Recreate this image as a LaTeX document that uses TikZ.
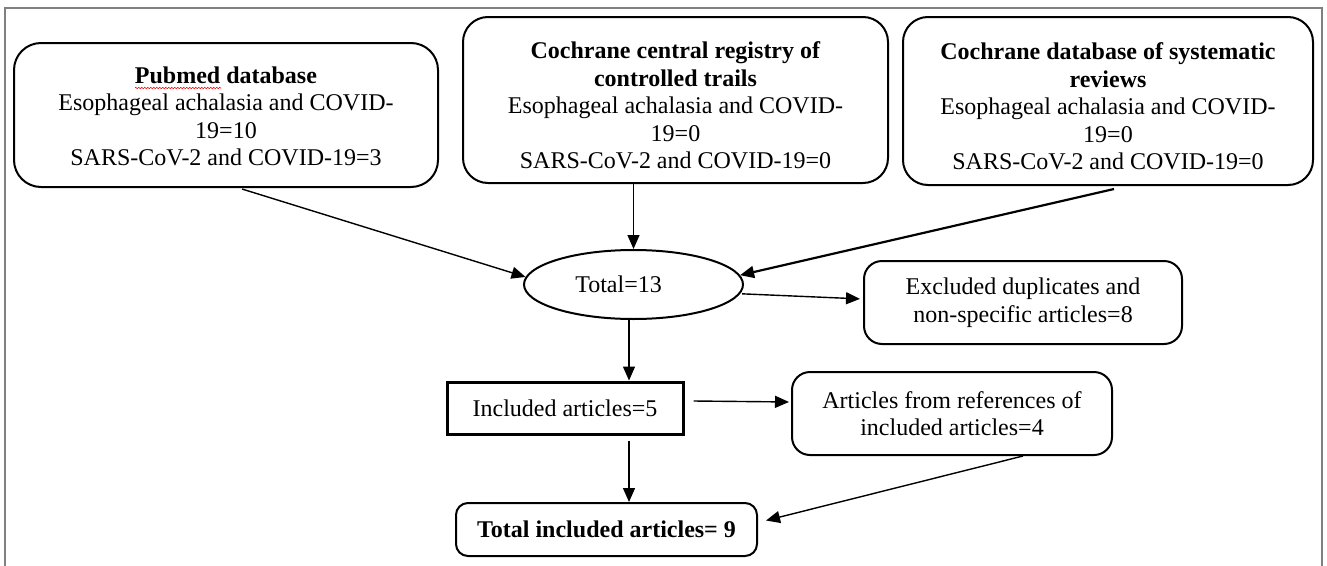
\documentclass[tikz,border=0pt]{standalone}
\usepackage{fontspec}
\setmainfont{Liberation Serif}
\usetikzlibrary{arrows.meta,decorations.pathmorphing,shapes.geometric}
\begin{document}
\begin{tikzpicture}[x=1pt,y=-1pt,
  box/.style={draw,line width=2pt,rounded corners=#1,inner sep=0pt,align=center,
              font=\fontsize{24}{27.5}\selectfont},
  box/.default=20pt,
  arr/.style={line width=1.4pt,-{Triangle[length=14pt,width=12pt]}},
  frameline/.style={draw=black!50,line width=1.6pt}]
\useasboundingbox (0,0) rectangle (1327,565);
\draw[frameline] (5,580) -- (5,8) -- (1322,8) -- (1322,580);

\node[box=27pt,minimum width=424pt,minimum height=144pt] (b1) at (226,115)
  {\rule{0pt}{19pt}\textbf{Pubmed database}\\Esophageal achalasia and COVID-\\19=10\\SARS-CoV-2 and COVID-19=3};
\node[box=25pt,minimum width=425pt,minimum height=166pt] (b2) at (675.5,100)
  {\rule{0pt}{28pt}\textbf{Cochrane central registry of}\\\textbf{controlled trails}\\Esophageal achalasia and COVID-\\19=0\\SARS-CoV-2 and COVID-19=0};
\node[box=25pt,minimum width=410pt,minimum height=168pt] (b3) at (1108,101)
  {\rule{0pt}{28pt}\textbf{Cochrane database of systematic}\\\textbf{reviews}\\Esophageal achalasia and COVID-\\19=0\\SARS-CoV-2 and COVID-19=0};

\node[draw,ellipse,line width=2pt,inner sep=0pt,minimum width=219pt,minimum height=69pt,
      font=\fontsize{24}{27.5}\selectfont] (ell) at (633.5,284.5) {Total=13\kern30pt};

\node[box=18pt,minimum width=318pt,minimum height=83pt] (ex) at (1023,302.5)
  {Excluded duplicates and\\non-specific articles=8};
\node[box=0pt,line width=3pt,minimum width=236pt,minimum height=52pt] (incl) at (565,408)
  {Included articles=5};
\node[box=18pt,minimum width=320pt,minimum height=83pt] (art) at (952,413.5)
  {Articles from references of\\included articles=4};
\node[box=12pt,minimum width=301pt,minimum height=53pt] (tot) at (606.5,529.5)
  {\textbf{Total included articles= 9}};

\draw[red,line width=0.6pt,decorate,decoration={zigzag,segment length=3pt,amplitude=0.8pt}]
  (135,88) -- (221,88);

\draw[arr] ([xshift=16pt,yshift=-1pt]b1.south) -- (ell.176);
\draw[arr] (b2.south -| ell.north) -- (ell.north);
\draw[arr,line width=2.2pt] ([xshift=6pt,yshift=-3pt]b3.south) -- (ell.5);
\draw[arr,shorten >=3pt] ([xshift=2pt]ell.-5) -- ([yshift=3.5pt]ex.west);
\draw[arr] ([xshift=-4.5pt]ell.south) -- ([xshift=64pt]incl.north);
\draw[arr] ([xshift=64pt,yshift=-5pt]incl.south) -- ([xshift=22.5pt]tot.north);
\draw[arr,shorten >=2pt] ([xshift=9pt,yshift=7pt]incl.east) -- ([yshift=11.5pt]art.west);
\draw[arr] ([xshift=71pt]art.south) -- ([xshift=8pt,yshift=9pt]tot.east);
\end{tikzpicture}
\end{document}
